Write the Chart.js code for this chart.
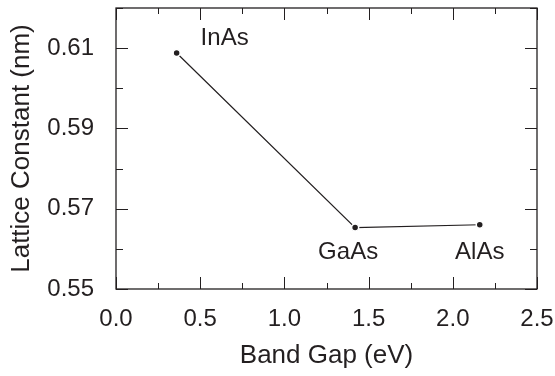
<!DOCTYPE html>
<html>
<head>
<meta charset="utf-8">
<script src="https://cdn.jsdelivr.net/npm/chart.js@4.4.0/dist/chart.umd.min.js"></script>
<style>
  html, body { margin: 0; padding: 0; background: #fff; }
  #wrap { width: 555px; height: 376px; }
</style>
</head>
<body>
<div id="wrap"><canvas id="chart" width="555" height="376"></canvas></div>
<script>
// data
const materials = ['InAs', 'GaAs', 'AlAs'];
const bandGap = [0.36, 1.42, 2.16];
const latticeConst = [0.6088, 0.5653, 0.5660];
const xTicks = [0.0, 0.5, 1.0, 1.5, 2.0, 2.5];
const yTicks = [0.55, 0.57, 0.59, 0.61];

const ink = '#231f20';
const fontFamily = '"Liberation Sans", Arial, sans-serif';

// label offsets from each point (px): dx, dy, align
const labelPlace = [[24, -15, 'left'], [-7, 25, 'center'], [0, 28, 'center']];

// frame + inward ticks on all four sides
const framePlugin = {
  id: 'frame',
  afterDraw(chart) {
    const { ctx, chartArea: a, scales: { x, y } } = chart;
    ctx.save();
    ctx.strokeStyle = ink;
    ctx.lineWidth = 1.3;
    ctx.strokeRect(a.left, a.top, a.right - a.left, a.bottom - a.top);
    ctx.lineWidth = 1;
    ctx.beginPath();
    for (let v = 0; v <= 2.5001; v += 0.25) {
      const px = Math.round(x.getPixelForValue(v)) + 0.5;
      const len = Math.abs(v * 2 - Math.round(v * 2)) < 1e-6 ? 12 : 6;
      ctx.moveTo(px, a.bottom); ctx.lineTo(px, a.bottom - len);
      ctx.moveTo(px, a.top); ctx.lineTo(px, a.top + len);
    }
    for (let v = 0.55; v <= 0.6201; v += 0.01) {
      const py = Math.round(y.getPixelForValue(v)) + 0.5;
      const k = Math.round((v - 0.55) * 100);
      const len = k % 2 === 0 ? 12 : 7;
      ctx.moveTo(a.left, py); ctx.lineTo(a.left + len, py);
      ctx.moveTo(a.right, py); ctx.lineTo(a.right - len, py);
    }
    ctx.stroke();

    // material labels
    ctx.fillStyle = ink;
    ctx.font = '24px ' + fontFamily;
    ctx.textBaseline = 'middle';
    materials.forEach((m, i) => {
      const [dx, dy, align] = labelPlace[i];
      ctx.textAlign = align;
      ctx.fillText(m, x.getPixelForValue(bandGap[i]) + dx, y.getPixelForValue(latticeConst[i]) + dy);
    });
    ctx.restore();
  }
};

new Chart(document.getElementById('chart'), {
  type: 'scatter',
  data: {
    datasets: [{
      data: bandGap.map((b, i) => ({ x: b, y: latticeConst[i] })),
      showLine: true,
      borderColor: ink,
      borderWidth: 1.2,
      backgroundColor: ink,
      pointRadius: 3.5,
      pointBorderColor: '#fff',
      pointBorderWidth: 1.5,
      tension: 0
    }]
  },
  options: {
    responsive: false,
    animation: false,
    layout: { autoPadding: false, padding: { left: 0, right: 18, top: 8, bottom: 0 } },
    plugins: { legend: { display: false }, tooltip: { enabled: false } },
    scales: {
      x: {
        type: 'linear',
        min: 0, max: 2.5,
        afterBuildTicks: s => { s.ticks = xTicks.map(v => ({ value: v })); },
        afterFit: s => { s.height = 87; s.paddingLeft = 0; s.paddingRight = 0; },
        grid: { display: false },
        border: { display: false },
        ticks: {
          color: ink, padding: 8,
          font: { family: fontFamily, size: 24 },
          callback: v => v.toFixed(1)
        },
        title: {
          display: true, text: 'Band Gap (eV)', color: ink,
          font: { family: fontFamily, size: 26 }, padding: { top: 0, bottom: 5 }
        }
      },
      y: {
        type: 'linear',
        min: 0.55, max: 0.62,
        afterBuildTicks: s => { s.ticks = yTicks.map(v => ({ value: v })); },
        afterFit: s => { s.width = 116; s.paddingTop = 0; s.paddingBottom = 0; },
        grid: { display: false },
        border: { display: false },
        ticks: {
          color: ink, padding: 14,
          font: { family: fontFamily, size: 24 },
          callback: v => v.toFixed(2)
        },
        title: {
          display: true, text: 'Lattice Constant (nm)', color: ink,
          font: { family: fontFamily, size: 26 }, padding: { top: 6, bottom: 0 }
        }
      }
    }
  },
  plugins: [framePlugin]
});
</script>
</body>
</html>
